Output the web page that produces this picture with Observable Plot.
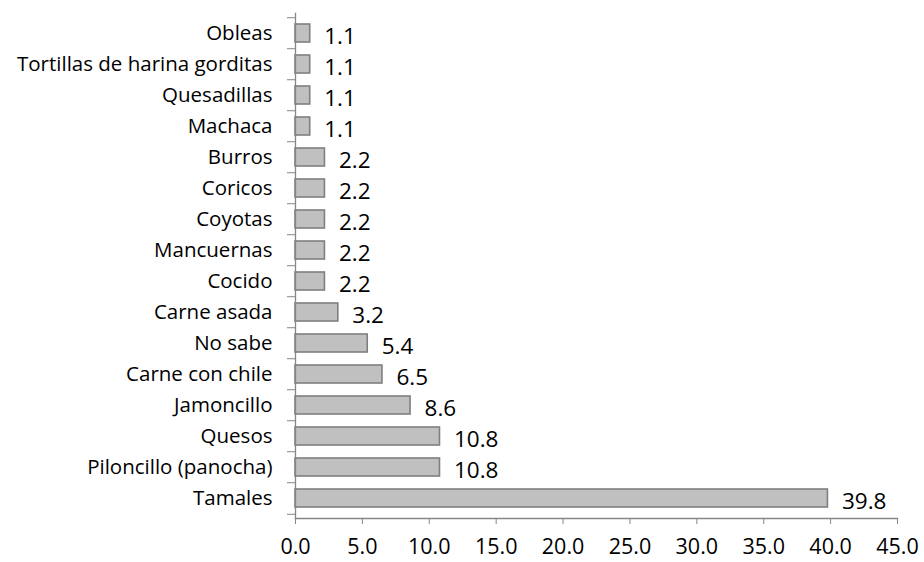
<!DOCTYPE html>
<html>
<head>
<meta charset="utf-8">
<script src="https://cdn.jsdelivr.net/npm/d3@7"></script>
<script src="https://cdn.jsdelivr.net/npm/@observablehq/plot@0.6"></script>
<style>
  html, body { margin: 0; padding: 0; background: #fff; }
  #chart { width: 924px; height: 562px; }
</style>
</head>
<body>
<div id="chart"></div>
<script>
const categories = [
  "Obleas", "Tortillas de harina gorditas", "Quesadillas", "Machaca",
  "Burros", "Coricos", "Coyotas", "Mancuernas", "Cocido", "Carne asada",
  "No sabe", "Carne con chile", "Jamoncillo", "Quesos",
  "Piloncillo (panocha)", "Tamales"
];
const values = [1.1, 1.1, 1.1, 1.1, 2.2, 2.2, 2.2, 2.2, 2.2, 3.2, 5.4, 6.5, 8.6, 10.8, 10.8, 39.8];
const xTicks = [0, 5, 10, 15, 20, 25, 30, 35, 40, 45];

const data = categories.map((c, i) => ({ cat: c, value: values[i] }));

const W = 924, H = 562;
const mTop = 13, mBottom = 44, mLeft = 295, mRight = 27;
const step = (H - mTop - mBottom) / categories.length;
const pad = 0.43;
const gray = "#868686";

const chart = Plot.plot({
  width: W,
  height: H,
  marginTop: mTop,
  marginBottom: mBottom,
  marginLeft: mLeft,
  marginRight: mRight,
  style: { fontFamily: "'Open Sans', sans-serif", background: "#fff", overflow: "visible" },
  x: { domain: [0, 45], ticks: xTicks },
  y: { domain: categories, paddingInner: pad, paddingOuter: pad / 2 },
  marks: [
    Plot.barX(data, { y: "cat", x: "value", fill: "#c0c0c0", stroke: "#7f7f7f", strokeWidth: 1.6 }),
    Plot.text(data, {
      y: "cat", x: "value", text: d => d.value.toFixed(1),
      textAnchor: "start", dx: 14, dy: 3, fontSize: 22.5, fill: "#000"
    }),
    Plot.frame({ anchor: "left", stroke: gray, strokeWidth: 1.3 }),
    Plot.frame({ anchor: "bottom", stroke: gray, strokeWidth: 1.3 }),
    Plot.axisY({ tickSize: 0, tickPadding: 23, fontSize: 20.5, fill: "#000", label: null }),
    Plot.axisY({ tickSize: 8, tickFormat: () => "", dy: -step / 2, stroke: gray, label: null }),
    Plot.axisY([categories[categories.length - 1]], { tickSize: 8, tickFormat: () => "", dy: step / 2, stroke: gray, label: null }),
    Plot.axisX({ ticks: xTicks, tickSize: 6, tickPadding: 14, tickFormat: d => d.toFixed(1), fontSize: 21.5, fill: "#000", stroke: gray, label: null })
  ]
});
document.getElementById("chart").appendChild(chart);
</script>
</body>
</html>
